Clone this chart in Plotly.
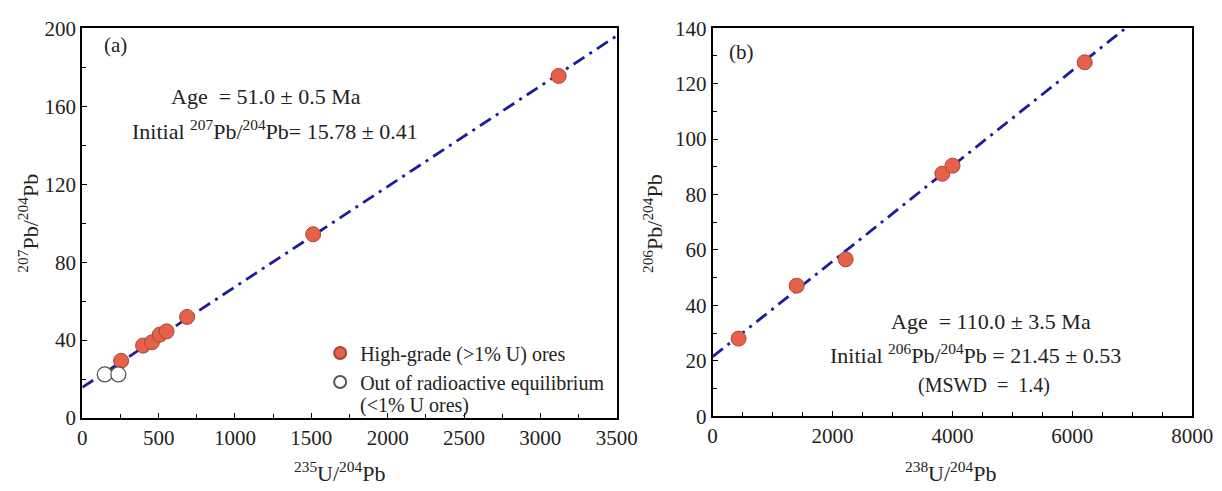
import numpy as np
import plotly.graph_objects as go

# ---- data: panel (a) 235U/204Pb vs 207Pb/204Pb ----
a_high_x = [254, 398, 456, 507, 552, 686, 1512, 3120]
a_high_y = [29.4, 37.2, 38.9, 42.8, 44.5, 51.9, 94.3, 175.5]
a_low_x = [147, 236]
a_low_y = [22.4, 22.4]
a_age_ma = 51.0
a_intercept = 15.78
a_x_ticks = [0, 500, 1000, 1500, 2000, 2500, 3000, 3500]
a_y_ticks = [0, 40, 80, 120, 160, 200]

# ---- data: panel (b) 238U/204Pb vs 206Pb/204Pb ----
b_x = [433, 1402, 2220, 3832, 4002, 6207]
b_y = [28.0, 47.1, 56.6, 87.5, 90.4, 127.7]
b_age_ma = 110.0
b_intercept = 21.45
b_x_ticks = [0, 2000, 4000, 6000, 8000]
b_y_ticks = [0, 20, 40, 60, 80, 100, 120, 140]

LAMBDA_235 = 9.8485e-10
LAMBDA_238 = 1.55125e-10

a_slope = np.exp(LAMBDA_235 * a_age_ma * 1e6) - 1
b_slope = np.exp(LAMBDA_238 * b_age_ma * 1e6) - 1
a_line_x = np.array([0, a_x_ticks[-1]])
b_line_x = np.array([0, b_x_ticks[-1]])

FONT = "Liberation Serif"
LINE_COLOR = "#1c1c9c"
FILL = "#e6604a"
EDGE = "#a8473a"

W, H = 1222, 491
def px(x):
    return x / W
def py(y):
    return 1 - y / H

fig = go.Figure()

fig.add_trace(go.Scatter(x=a_line_x, y=a_intercept + a_slope * a_line_x, mode="lines",
                         line=dict(color=LINE_COLOR, width=2.8, dash="13px,6px,3px,6px"),
                         showlegend=False, xaxis="x", yaxis="y", hoverinfo="skip"))
fig.add_trace(go.Scatter(x=a_high_x, y=a_high_y, mode="markers", name="High-grade (>1% U) ores",
                         marker=dict(size=15, color=FILL, line=dict(color=EDGE, width=1)),
                         xaxis="x", yaxis="y"))
fig.add_trace(go.Scatter(x=a_low_x, y=a_low_y, mode="markers",
                         name="Out of radioactive equilibrium",
                         marker=dict(size=15, color="white", line=dict(color="#555555", width=1.3)),
                         xaxis="x", yaxis="y"))

fig.add_trace(go.Scatter(x=b_line_x, y=b_intercept + b_slope * b_line_x, mode="lines",
                         line=dict(color=LINE_COLOR, width=2.8, dash="13px,6px,3px,6px"),
                         showlegend=False, xaxis="x2", yaxis="y2", hoverinfo="skip"))
fig.add_trace(go.Scatter(x=b_x, y=b_y, mode="markers", showlegend=False,
                         marker=dict(size=15, color=FILL, line=dict(color=EDGE, width=1)),
                         xaxis="x2", yaxis="y2"))

axis_common = dict(showgrid=False, zeroline=False, showline=True, linecolor="black",
                   linewidth=2, mirror=True, ticks="inside", ticklen=5, tickcolor="black",
                   tickfont=dict(family=FONT, size=21, color="#222"))

fig.update_layout(
    width=W, height=H, autosize=False,
    margin=dict(l=0, r=0, t=0, b=0),
    paper_bgcolor="white", plot_bgcolor="white",
    font=dict(family=FONT, size=20, color="#222"),
    xaxis=dict(domain=[px(79), px(625)], range=[0, 3500], tickvals=a_x_ticks,
               minor=dict(ticks="inside", dtick=250, ticklen=4, tickcolor="black"),
               anchor="y", **axis_common),
    yaxis=dict(domain=[py(427), py(17)], range=[0, 200], tickvals=a_y_ticks,
               minor=dict(ticks="inside", dtick=20, ticklen=4, tickcolor="black"),
               anchor="x", **axis_common),
    xaxis2=dict(domain=[px(723), px(1213)], range=[0, 8000], tickvals=b_x_ticks,
                minor=dict(ticks="inside", dtick=500, ticklen=4, tickcolor="black"),
                anchor="y2", **axis_common),
    yaxis2=dict(domain=[py(425), py(17)], range=[0, 140], tickvals=b_y_ticks,
                minor=dict(ticks="inside", dtick=10, ticklen=4, tickcolor="black"),
                anchor="x2", **axis_common),
    legend=dict(x=px(322), y=py(338), xanchor="left", yanchor="top",
                bgcolor="rgba(0,0,0,0)", font=dict(family=FONT, size=20, color="#222"),
                itemsizing="constant", tracegroupgap=0),
)

ann = [
    dict(text="(a)", x=px(113), y=py(35)),
    dict(text="Age  = 51.0 ± 0.5 Ma", x=px(267), y=py(89), size=22),
    dict(text="Initial <sup>207</sup>Pb/<sup>204</sup>Pb= 15.78 ± 0.41", x=px(276), y=py(124), size=22),
    dict(text="(b)", x=px(752), y=py(42)),
    dict(text="Age  = 110.0 ± 3.5 Ma", x=px(1007), y=py(325), size=22),
    dict(text="Initial <sup>206</sup>Pb/<sup>204</sup>Pb = 21.45 ± 0.53", x=px(992), y=py(360), size=22),
    dict(text="(MSWD  =  1.4)", x=px(1000), y=py(393), size=20),
    dict(text="<sup>235</sup>U/<sup>204</sup>Pb", x=px(342), y=py(484), size=22),
    dict(text="<sup>238</sup>U/<sup>204</sup>Pb", x=px(966), y=py(484), size=22),
    dict(text="<sup>207</sup>Pb/<sup>204</sup>Pb", x=px(24), y=py(222), angle=-90, size=22),
    dict(text="<sup>206</sup>Pb/<sup>204</sup>Pb", x=px(662), y=py(222), angle=-90, size=22),
    dict(text="(&lt;1% U ores)", x=px(361), y=py(414), size=20, xanchor="left"),
]
for a in ann:
    fig.add_annotation(text=a["text"], x=a["x"], y=a["y"], xref="paper", yref="paper",
                       showarrow=False, xanchor=a.get("xanchor", "center"), yanchor="middle",
                       textangle=a.get("angle", 0),
                       font=dict(family=FONT, size=a.get("size", 21), color="#222"))

fig.write_html("out.html")
